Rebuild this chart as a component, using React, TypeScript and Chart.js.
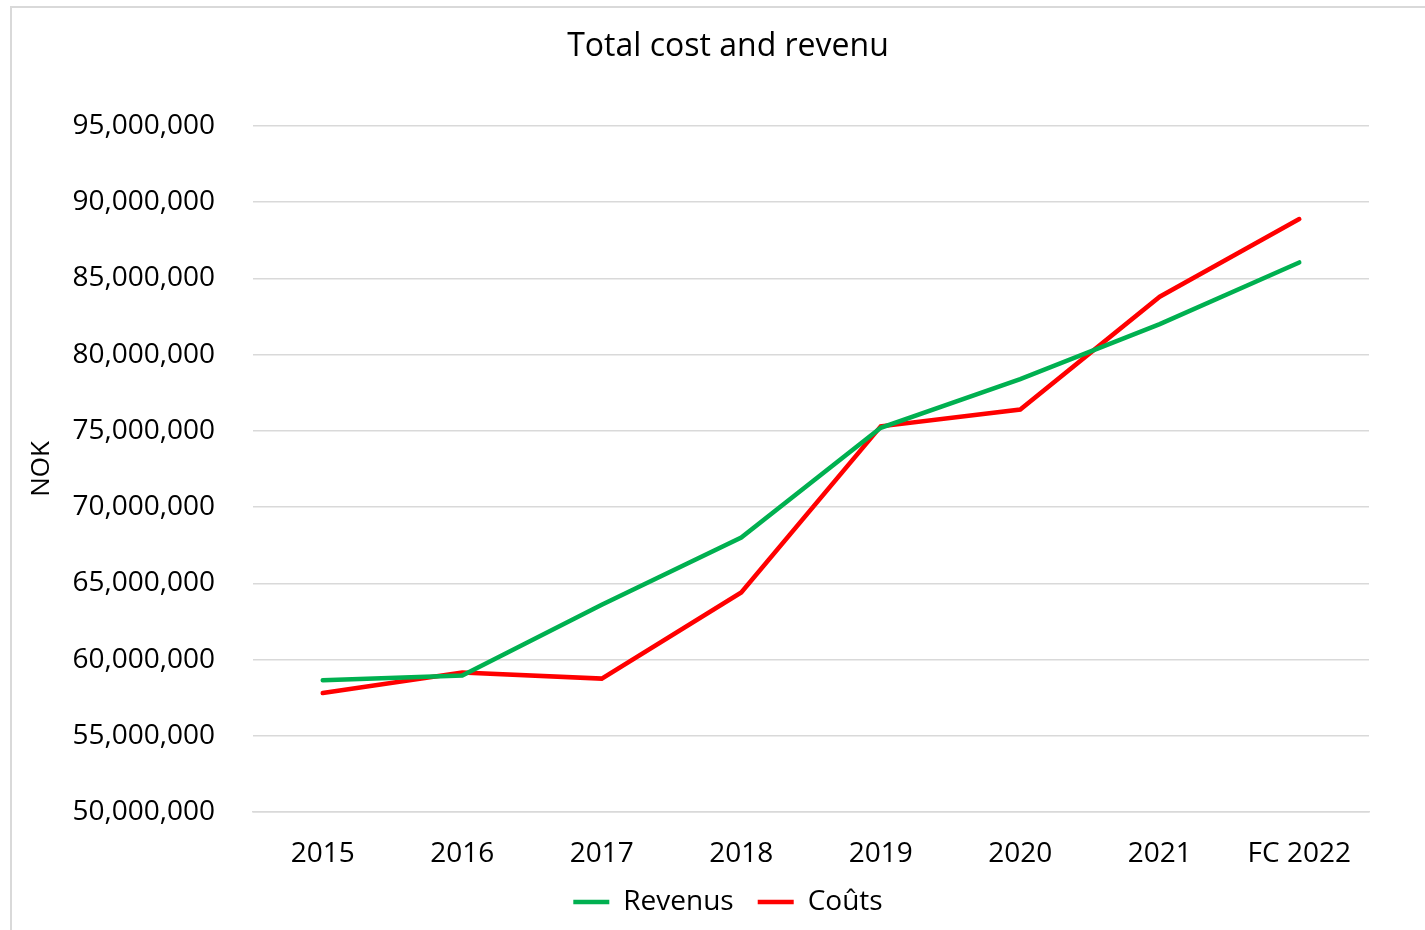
import React, { useEffect, useRef } from "react";
import { Chart, registerables } from "chart.js";

Chart.register(...registerables);

const categories = ["2015", "2016", "2017", "2018", "2019", "2020", "2021", "FC 2022"];
const revenus = [58650000, 58950000, 63600000, 68000000, 75200000, 78400000, 82000000, 86050000];
const couts = [57800000, 59150000, 58750000, 64400000, 75300000, 76400000, 83800000, 88900000];
const yMin = 50000000;
const yMax = 95000000;
const yStep = 5000000;

const FONT = "'Open Sans', 'Liberation Sans', sans-serif";

const widenYAxis = {
  id: "widenYAxis",
  afterLayout(chart: any) {
    chart.scales.y.left = 0;
  },
};

export default function App() {
  const ref = useRef<HTMLCanvasElement | null>(null);

  useEffect(() => {
    document.body.style.overflow = "hidden";
    const ctx = ref.current!;
    const chart = new Chart(ctx, {
      type: "line",
      data: {
        labels: categories,
        datasets: [
          {
            label: "Revenus",
            data: revenus,
            borderColor: "#00b050",
            backgroundColor: "#00b050",
            borderWidth: 4.5,
            pointRadius: 0,
            tension: 0,
            borderCapStyle: "round",
          },
          {
            label: "Coûts",
            data: couts,
            borderColor: "#ff0000",
            backgroundColor: "#ff0000",
            borderWidth: 4.5,
            pointRadius: 0,
            tension: 0,
            borderCapStyle: "round",
          },
        ],
      },
      plugins: [widenYAxis],
      options: {
        animation: false,
        responsive: false,
        maintainAspectRatio: false,
        layout: { padding: { left: 75, right: 56, top: 0, bottom: 4 } },
        plugins: {
          title: {
            display: true,
            text: "Total cost and revenu",
            color: "#000",
            font: { family: FONT, size: 32, weight: "normal" },
            padding: { top: 20, bottom: 59.6 },
          },
          legend: {
            position: "bottom",
            labels: {
              color: "#000",
              font: { family: FONT, size: 28 },
              boxWidth: 36,
              boxHeight: 0,
              padding: 24,
            },
          },
          tooltip: { enabled: false },
        },
        scales: {
          x: {
            offset: true,
            grid: { display: false, drawTicks: false },
            border: { display: true, color: "#d9d9d9", width: 1.5 },
            ticks: {
              color: "#000",
              font: { family: FONT, size: 28 },
              padding: 25,
              maxRotation: 0,
            },
            afterFit: (scale: any) => {
              scale.height = 52;
            },
          },
          y: {
            min: yMin,
            max: yMax,
            grid: { color: "#d9d9d9", lineWidth: 1.5, drawTicks: false },
            border: { display: false },
            ticks: {
              stepSize: yStep,
              color: "#000",
              font: { family: FONT, size: 28 },
              padding: 38,
              callback: (v: any) => Number(v).toLocaleString("en-US"),
            },
            title: {
              display: true,
              text: "NOK",
              color: "#000",
              font: { family: FONT, size: 26 },
              padding: { top: 14.4, bottom: 0 },
            },
            afterFit: (scale: any) => {
              scale.width = 166;
            },
          },
        },
      },
    });
    return () => chart.destroy();
  }, []);

  return (
    <div
      style={{
        position: "fixed",
        left: 10,
        top: 6,
        width: 1440,
        height: 950,
        border: "2px solid #d9d9d9",
        background: "#fff",
      }}
    >
      <canvas ref={ref} width={1413} height={922} style={{ display: "block" }} />
    </div>
  );
}
